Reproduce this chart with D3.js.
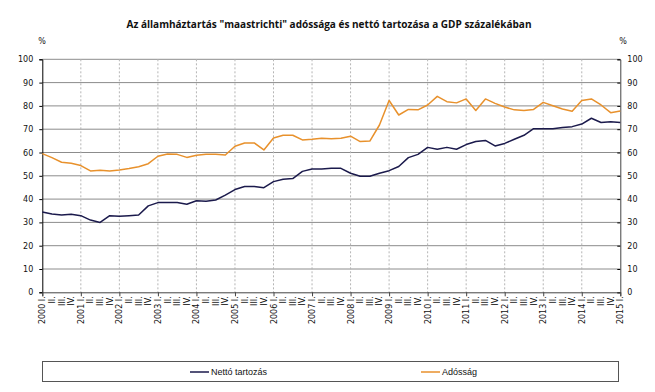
<!DOCTYPE html>
<html><head><meta charset="utf-8">
<script src="https://cdn.jsdelivr.net/npm/d3@7"></script>
<style>body{margin:0;background:#fff}svg{display:block}</style>
</head><body>
<svg id="c" width="655" height="392"></svg>
<script>
const years = d3.range(2000, 2016);
const quarterNames = ["I.", "II.", "III.", "IV."];
const nettoTartozas = [34.5, 33.6, 33.2, 33.5, 32.9, 31.0, 30.0, 32.9, 32.6, 32.9,
  33.2, 37.1, 38.5, 38.5, 38.5, 37.8, 39.3, 39.1, 39.6, 41.7,
  44.1, 45.4, 45.4, 44.9, 47.5, 48.5, 48.8, 51.9, 52.9, 52.9,
  53.2, 53.2, 51.1, 49.8, 49.8, 51.1, 52.2, 54.0, 57.8, 59.2,
  62.2, 61.4, 62.2, 61.4, 63.4, 64.7, 65.2, 62.8, 63.9, 65.7,
  67.4, 70.2, 70.2, 70.2, 70.7, 71.1, 72.2, 74.7, 72.9, 73.2,
  72.9];
const adossag = [59.5, 57.8, 55.8, 55.4, 54.4, 52.1, 52.4, 52.1, 52.5, 53.1,
  53.9, 55.2, 58.4, 59.4, 59.2, 57.9, 58.8, 59.2, 59.2, 58.9,
  62.7, 64.1, 64.1, 61.1, 66.2, 67.4, 67.4, 65.4, 65.7, 66.1,
  65.9, 66.1, 67.0, 64.7, 64.9, 71.8, 82.3, 76.1, 78.5, 78.3,
  80.4, 84.1, 81.8, 81.3, 83.0, 78.0, 83.0, 81.1, 79.5, 78.3,
  78.0, 78.5, 81.5, 80.1, 78.7, 77.7, 82.3, 83.0, 80.4, 77.1,
  77.8];
const yTicks = [0, 10, 20, 30, 40, 50, 60, 70, 80, 90, 100];
const titleText = 'Az államháztartás "maastrichti" adóssága és nettó tartozása a GDP százalékában';
const seriesNames = ["Nettó tartozás", "Adósság"];
const seriesColors = ["#1b1a4c", "#e8912c"];

// quarter labels
const categories = [];
years.forEach(y => quarterNames.forEach((q, i) => { if (categories.length < nettoTartozas.length) categories.push(i === 0 ? y + " " + q : q); }));

const svg = d3.select("#c");
const L = 42.3, R = 620.3, T = 59.3, B = 292.3;
const x = d3.scalePoint().domain(d3.range(categories.length)).range([L, R]);
const y = d3.scaleLinear().domain([0, 100]).range([B, T]);

// horizontal gridlines
svg.append("g").selectAll("line").data(yTicks.filter(d => d > 0)).join("line")
  .attr("x1", L).attr("x2", R).attr("y1", d => y(d)).attr("y2", d => y(d))
  .attr("stroke", "#8c8c8c").attr("stroke-width", 1);

// vertical dashed year gridlines
const yearIdx = d3.range(4, categories.length - 1, 4);
svg.append("g").selectAll("line").data(yearIdx).join("line")
  .attr("x1", d => x(d)).attr("x2", d => x(d)).attr("y1", T).attr("y2", B)
  .attr("stroke", "#b5b5b5").attr("stroke-width", 1).attr("stroke-dasharray", "2,2");

// left axis
const yAxisL = d3.axisLeft(y).tickValues(yTicks).tickSize(3).tickPadding(6);
const gL = svg.append("g").attr("transform", `translate(${L},0)`).call(yAxisL);
gL.select(".domain").attr("stroke", "#000");
gL.selectAll("text").attr("font-family", "DejaVu Sans").attr("font-size", 8).attr("fill", "#111");

// right axis
const yAxisR = d3.axisRight(y).tickValues(yTicks).tickSize(-3).tickPadding(7);
const gR = svg.append("g").attr("transform", `translate(${R},0)`).call(yAxisR);
gR.select(".domain").attr("stroke", "#444");
gR.selectAll("text").attr("font-family", "DejaVu Sans").attr("font-size", 8).attr("fill", "#111");

// bottom axis
const xAxis = d3.axisBottom(x).tickValues(d3.range(0, categories.length, 4)).tickSize(4).tickFormat(() => "");
const gB = svg.append("g").attr("transform", `translate(0,${B})`).call(xAxis);
gB.select(".domain").attr("stroke", "#444");
gB.selectAll(".tick line").attr("stroke", "#444");

// x labels rotated
svg.append("g").selectAll("text").data(d3.range(categories.length)).join("text")
  .attr("transform", d => `translate(${x(d) + 3},${B + 4}) rotate(-90)`)
  .attr("text-anchor", "end")
  .attr("font-family", "DejaVu Sans").attr("font-size", 8).attr("fill", "#111")
  .text(d => categories[d]);

// lines
const line = d3.line().x((d, i) => x(i)).y(d => y(d));
[adossag, nettoTartozas].forEach((s, k) => {
  svg.append("path").datum(s).attr("d", line).attr("fill", "none")
    .attr("stroke", k === 0 ? seriesColors[1] : seriesColors[0]).attr("stroke-width", 1.5)
    .attr("stroke-linejoin", "round");
});

// title
svg.append("text").attr("x", 329).attr("y", 28).attr("text-anchor", "middle")
  .attr("font-family", "Open Sans").attr("font-weight", "bold").attr("font-size", 10.5)
  .attr("textLength", 405).attr("lengthAdjust", "spacingAndGlyphs").attr("fill", "#111")
  .text(titleText);

// % labels
svg.append("text").attr("x", 42).attr("y", 44).attr("text-anchor", "middle")
  .attr("font-family", "DejaVu Sans").attr("font-size", 8).attr("fill", "#111").text("%");
svg.append("text").attr("x", 623).attr("y", 44).attr("text-anchor", "middle")
  .attr("font-family", "DejaVu Sans").attr("font-size", 8).attr("fill", "#111").text("%");

// legend
svg.append("rect").attr("x", 42.5).attr("y", 361.5).attr("width", 576).attr("height", 20)
  .attr("fill", "#fff").attr("stroke", "#555");
const legPos = [190, 421];
seriesNames.forEach((n, i) => {
  svg.append("line").attr("x1", legPos[i]).attr("x2", legPos[i] + 19).attr("y1", 372).attr("y2", 372)
    .attr("stroke", seriesColors[i]).attr("stroke-width", 1.5);
  svg.append("text").attr("x", legPos[i] + 21).attr("y", 375)
    .attr("font-family", "Liberation Sans").attr("font-size", 9).attr("fill", "#111").text(n);
});
</script>
</body></html>
